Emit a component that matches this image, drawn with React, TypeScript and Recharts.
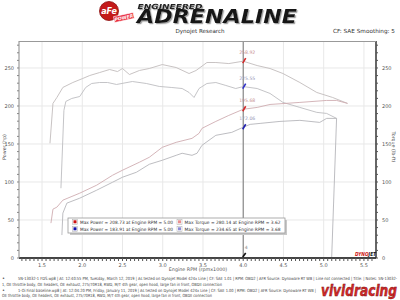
import React from 'react';
import { LineChart, Line, XAxis, YAxis, ReferenceLine, ReferenceDot } from 'recharts';

// ---- data ----
const redTorqueRpm = [1.599, 1.636, 1.685, 1.759, 1.883, 2.006, 2.093, 2.216, 2.34, 2.438, 2.5, 2.586, 2.71, 2.833, 2.994, 3.167, 3.327, 3.414, 3.549, 3.66, 3.821, 4.0, 4.173, 4.333, 4.494, 4.704, 4.914, 5.111, 5.296];
const redTorqueVal = [150.9, 203.4, 211.2, 224.4, 230.9, 236.2, 240.1, 244.0, 248.0, 245.3, 249.3, 241.4, 246.7, 249.3, 254.5, 250.6, 242.7, 246.7, 257.2, 257.2, 255.8, 258.92, 253.2, 249.3, 242.7, 230.9, 217.8, 211.2, 203.4];

const blueTorqueRpm = [1.735, 1.772, 1.796, 1.87, 1.969, 2.043, 2.117, 2.216, 2.315, 2.426, 2.623, 2.796, 2.957, 3.105, 3.241, 3.327, 3.389, 3.451, 3.549, 3.66, 3.784, 3.907, 4.0, 4.173, 4.333, 4.494, 4.704, 4.914, 5.037, 5.16];
const blueTorqueVal = [91.8, 194.2, 206.0, 209.9, 212.5, 224.4, 229.6, 230.9, 230.9, 228.3, 232.2, 229.6, 225.7, 224.4, 223.0, 217.8, 211.2, 223.0, 229.6, 230.9, 227.0, 223.0, 225.55, 223.0, 216.5, 204.7, 198.1, 191.6, 190.2, 183.7];

const redPowerRpm = [1.611, 1.636, 1.685, 1.759, 1.969, 2.179, 2.377, 2.5, 2.71, 2.833, 2.994, 3.167, 3.364, 3.451, 3.488, 3.66, 3.821, 4.0, 4.173, 4.333, 4.704, 5.037, 5.16, 5.296];
const redPowerVal = [45.9, 64.3, 66.9, 76.1, 85.3, 95.8, 108.9, 115.5, 126.0, 132.5, 145.6, 152.2, 157.4, 164.0, 170.6, 179.7, 187.6, 195.68, 198.1, 202.0, 204.7, 207.3, 207.3, 203.4];

const bluePowerRpm = [1.747, 1.759, 1.809, 1.969, 2.179, 2.377, 2.5, 2.673, 2.833, 2.994, 3.167, 3.241, 3.364, 3.426, 3.488, 3.66, 3.858, 4.0, 4.086, 4.21, 4.457, 4.704, 4.951, 5.037, 5.16, 5.099];
const bluePowerVal = [30.2, 59.0, 72.2, 78.7, 89.2, 99.7, 106.3, 112.8, 123.3, 128.6, 135.1, 137.8, 135.1, 137.8, 148.3, 161.4, 165.3, 172.06, 175.8, 177.1, 179.7, 181.1, 178.4, 183.7, 183.7, 0];

const cursorRpm = 4.0;
const cursorValues = [258.92, 225.55, 195.68, 172.06];
const cursorLabels = ['258.92', '225.55', '195.68', '172.06'];
const cursorColors = ['#d42a2a', '#3030c8', '#d42a2a', '#2020b0'];
const cursorLabelColors = ['#c89090', '#9a9ab8', '#c89090', '#9a9ab8'];

const xMajorTicks = [1.5, 2.0, 2.5, 3.0, 3.5, 4.0, 4.5, 5.0, 5.5];
const yMajorTicks = [0, 50, 100, 150, 200, 250];

const legendRows = [
  'Max Power = 208.73 at Engine RPM = 5.00',
  'Max Power = 183.91 at Engine RPM = 5.00',
  'Max Torque = 280.14 at Engine RPM = 3.62',
  'Max Torque = 234.65 at Engine RPM = 3.68',
];
const legendColors = ['#cc1111', '#1111aa', '#e89090', '#8c8cd8'];

const footerLines = [
  '5N-13032-1 FDS.wp8 | At: 12:40:55 PM, Tuesday, March 12, 2019 | As tested on Dynojet Model 424x Line | CF: SAE 1.01 | RPM: OBD2 | AFR Source: Dynoware RT WB | Line not connected | Title: | Notes: 5N-13032-',
  '1, OE throttle body, OE headers, OE exhaust, 275/70R18, RWD, M/T 4th gear, open hood, large fan in front, OBDII connection',
  '1-Oi Final baseline.wp8 | At: 12:04:20 PM, Friday, January 11, 2019 | As tested on Dynojet Model 424x Line | CF: SAE 1.00 | RPM: OBD2 | AFR Source: Dynoware RT WB |',
  'OE throttle body, OE headers, OE exhaust, 275/70R18, RWD, M/T 4th gear, open hood, large fan in front, OBDII connection',
];

const zip = (r: number[], v: number[]) => r.map((x, i) => ({ rpm: x, v: v[i] }));
const redTorque = zip(redTorqueRpm, redTorqueVal);
const blueTorque = zip(blueTorqueRpm, blueTorqueVal);
const redPower = zip(redPowerRpm, redPowerVal);
const bluePower = zip(bluePowerRpm, bluePowerVal);

const xMinorTicks: number[] = [];
for (let i = 25; i <= 112; i++) xMinorTicks.push(Math.round(i * 5) / 100);
const yMinorTicks: number[] = [];
for (let i = 0; i <= 28; i++) yMinorTicks.push(i * 10);

const FONT = '"DejaVu Sans", Verdana, sans-serif';

const isMajorX = (v: number) => xMajorTicks.some((t) => Math.abs(t - v) < 1e-6);
const isMajorY = (v: number) => yMajorTicks.some((t) => Math.abs(t - v) < 1e-6);

const XTick = (props: any) => {
  const { x, y, payload } = props;
  if (!isMajorX(payload.value)) return <g />;
  return (
    <text x={x} y={y + 3.5} textAnchor="middle" fontSize={5} fill="#555" fontFamily={FONT}>
      {payload.value.toFixed(1)}
    </text>
  );
};
const YTickLeft = (props: any) => {
  const { x, y, payload } = props;
  if (!isMajorY(payload.value)) return <g />;
  return (
    <text x={x} y={y + 1.8} textAnchor="end" fontSize={5} fill="#555" fontFamily={FONT}>
      {payload.value}
    </text>
  );
};
const YTickRight = (props: any) => {
  const { x, y, payload } = props;
  if (!isMajorY(payload.value)) return <g />;
  return (
    <text x={x} y={y + 1.8} textAnchor="start" fontSize={5} fill="#555" fontFamily={FONT}>
      {payload.value}
    </text>
  );
};

const makeMarker = (i: number) => (p: any) => {
  const { cx, cy } = p;
  return (
    <g>
      <line x1={cx - 0.5} y1={cy + 2} x2={cx + 2.5} y2={cy - 3} stroke={cursorColors[i]} strokeWidth={1.6} />
      <text x={cx + 4} y={cy - 7} textAnchor="middle" fontSize={4.6} fill={cursorLabelColors[i]} fontFamily={FONT}>
        {cursorLabels[i]}
      </text>
    </g>
  );
};
const BottomMarker = (p: any) => {
  const { cx, cy } = p;
  return (
    <g>
      <line x1={cx - 0.5} y1={cy - 1} x2={cx + 2.5} y2={cy - 5} stroke="#111" strokeWidth={1.6} />
      <text x={cx + 3} y={cy - 9} textAnchor="middle" fontSize={4.6} fill="#888" fontFamily={FONT}>4</text>
    </g>
  );
};

export default function App() {
  return (
    <div style={{ position: 'absolute', left: 0, top: 0, width: 400, height: 300, background: '#fff', overflow: 'hidden' }}>
      <div style={{ position: 'absolute', left: 0, top: 0 }}>
        <LineChart width={400} height={300} margin={{ top: 41, right: 0, left: 0, bottom: 0 }}>
          <XAxis
            type="number"
            dataKey="rpm"
            domain={[1.214, 5.65]}
            allowDataOverflow
            ticks={xMinorTicks}
            interval={0}
            height={42}
            tick={<XTick />}
            tickSize={3}
            tickMargin={2}
            axisLine={{ stroke: '#444', strokeWidth: 2 }}
            tickLine={{ stroke: '#555' }}
          />
          <YAxis
            yAxisId="hp"
            type="number"
            domain={[0, 285.5]}
            allowDataOverflow
            ticks={yMinorTicks}
            interval={0}
            width={19}
            tick={<YTickLeft />}
            tickSize={2}
            tickMargin={3}
            axisLine={{ stroke: '#888' }}
            tickLine={{ stroke: '#888' }}
          />
          <YAxis
            yAxisId="tq"
            orientation="right"
            type="number"
            domain={[0, 285.5]}
            allowDataOverflow
            ticks={yMinorTicks}
            interval={0}
            width={24}
            tick={<YTickRight />}
            tickSize={2}
            tickMargin={4}
            axisLine={{ stroke: '#333', strokeWidth: 1.5 }}
            tickLine={{ stroke: '#555' }}
          />
          {xMajorTicks.map((t) => (
            <ReferenceLine key={'gx' + t} yAxisId="hp" x={t} stroke="#e8e8e8" strokeWidth={1} />
          ))}
          {yMajorTicks.slice(1).map((t) => (
            <ReferenceLine key={'gy' + t} yAxisId="hp" y={t} stroke="#e8e8e8" strokeWidth={1} />
          ))}
          <ReferenceLine yAxisId="hp" x={cursorRpm} stroke="#777" strokeWidth={1} />
          <Line yAxisId="tq" data={redTorque} dataKey="v" type="linear" stroke="#c2bcbc" strokeWidth={0.9} dot={false} isAnimationActive={false} />
          <Line yAxisId="tq" data={blueTorque} dataKey="v" type="linear" stroke="#bdbdc1" strokeWidth={0.9} dot={false} isAnimationActive={false} />
          <Line yAxisId="hp" data={redPower} dataKey="v" type="linear" stroke="#cfadb1" strokeWidth={0.9} dot={false} isAnimationActive={false} />
          <Line yAxisId="hp" data={bluePower} dataKey="v" type="linear" stroke="#b6b6ba" strokeWidth={0.9} dot={false} isAnimationActive={false} />
          {cursorValues.map((v, i) => (
            <ReferenceDot key={'cd' + i} yAxisId="hp" x={cursorRpm} y={v} r={2} shape={makeMarker(i)} />
          ))}
          <ReferenceDot yAxisId="hp" x={cursorRpm} y={0} r={2} shape={BottomMarker} />
        </LineChart>
      </div>
      <svg width={400} height={300} style={{ position: 'absolute', left: 0, top: 0, pointerEvents: 'none' }}>
        <defs>
          <filter id="shadow" x="-10%" y="-30%" width="130%" height="180%">
            <feDropShadow dx={1.2} dy={1.2} stdDeviation={0.6} floodColor="#888" floodOpacity={0.8} />
          </filter>
        </defs>
        {/* plot border */}
        <line x1={19} y1={41.5} x2={376} y2={41.5} stroke="#999" strokeWidth={1} />
        {/* header logo */}
        <circle cx={109} cy={11} r={9.5} fill="#c41a1a" stroke="#8a0e0e" strokeWidth={0.8} />
        <text x={109} y={14} textAnchor="middle" fontSize={8} fontWeight="bold" fontStyle="italic" fill="#fff" fontFamily={FONT}>aFe</text>
        <g transform="rotate(-12 124 18)">
          <rect x={114} y={14.5} width={20} height={6} fill="#e8283a" stroke="#fff" strokeWidth={0.6} />
          <text x={124} y={19.3} textAnchor="middle" fontSize={4.6} fontWeight="bold" fontStyle="italic" fill="#fff" fontFamily={FONT}>POWER</text>
        </g>
        <g filter="url(#shadow)">
          <text x={137.5} y={8.5} fontSize={7} fontWeight="bold" fontStyle="italic" fill="#222" fontFamily={FONT} textLength={65} lengthAdjust="spacingAndGlyphs">ENGINEERED</text>
          <text x={137} y={23} fontSize={19} fontWeight="bold" fontStyle="italic" fill="#141414" fontFamily={FONT} textLength={160} lengthAdjust="spacingAndGlyphs">ADRENALINE</text>
        </g>
        <text x={200} y={32.5} textAnchor="middle" fontSize={5.6} fill="#333" fontFamily={FONT}>Dynojet Research</text>
        <text x={333} y={32.5} fontSize={5.6} fill="#333" fontFamily={FONT} textLength={62} lengthAdjust="spacingAndGlyphs">CF: SAE Smoothing: 5</text>
        {/* axis titles */}
        <text transform="translate(5.5 147) rotate(-90)" textAnchor="middle" fontSize={4.8} fill="#555" fontFamily={FONT}>Power (hp)</text>
        <text transform="translate(392 147) rotate(90)" textAnchor="middle" fontSize={4.8} fill="#555" fontFamily={FONT}>Torque (lb-ft)</text>
        <text x={198} y={270.5} textAnchor="middle" fontSize={4.8} fill="#555" fontFamily={FONT}>Engine RPM (rpmx1000)</text>
        {/* dynojet logo */}
        <text x={355} y={256} fontSize={5.5} fontWeight="bold" fontStyle="italic" fontFamily={FONT} textLength={21} lengthAdjust="spacingAndGlyphs">
          <tspan fill="#d01818">DYNO</tspan>
          <tspan fill="#111">JET</tspan>
        </text>
        {/* legend */}
        <rect x={70} y={220} width={217} height={15} fill="#c8c8c8" />
        <rect x={68} y={218} width={217} height={15} fill="#fff" stroke="#999" strokeWidth={0.8} />
        {[0, 1].map((r) => (
          <g key={'l' + r}>
            <rect x={72.5} y={219.3 + r * 7} width={5} height={5} fill="#fff" stroke="#aaa" strokeWidth={0.5} />
            <rect x={73.5} y={220.3 + r * 7} width={3} height={3} fill={legendColors[r]} />
            <text x={80} y={224 + r * 7} fontSize={4.5} fill="#333" fontFamily={FONT} textLength={93} lengthAdjust="spacingAndGlyphs">{legendRows[r]}</text>
            <rect x={177} y={219.3 + r * 7} width={5} height={5} fill="#fff" stroke="#aaa" strokeWidth={0.5} />
            <rect x={178} y={220.3 + r * 7} width={3} height={3} fill={legendColors[r + 2]} />
            <text x={184.5} y={224 + r * 7} fontSize={4.5} fill="#333" fontFamily={FONT} textLength={96} lengthAdjust="spacingAndGlyphs">{legendRows[r + 2]}</text>
          </g>
        ))}
        {/* footer */}
        <text x={2} y={280} fontSize={5} fill="#333" fontFamily={FONT}>•</text>
        <text x={18} y={280} fontSize={4.3} fill="#444" fontFamily={FONT} textLength={379} lengthAdjust="spacingAndGlyphs">{footerLines[0]}</text>
        <text x={2} y={285.5} fontSize={4.3} fill="#444" fontFamily={FONT} textLength={220} lengthAdjust="spacingAndGlyphs">{footerLines[1]}</text>
        <text x={2} y={291.5} fontSize={5} fill="#333" fontFamily={FONT}>•</text>
        <text x={18} y={291.5} fontSize={4.3} fill="#444" fontFamily={FONT} textLength={298} lengthAdjust="spacingAndGlyphs">{footerLines[2]}</text>
        <text x={2} y={297} fontSize={4.3} fill="#444" fontFamily={FONT} textLength={210} lengthAdjust="spacingAndGlyphs">{footerLines[3]}</text>
        {/* watermark */}
        <text x={321} y={296} fontSize={16} fontWeight="bold" fontStyle="italic" fill="#d42a2a" stroke="#7a1010" strokeWidth={0.5} fontFamily={FONT} textLength={76} lengthAdjust="spacingAndGlyphs">vividracing</text>
      </svg>
    </div>
  );
}
